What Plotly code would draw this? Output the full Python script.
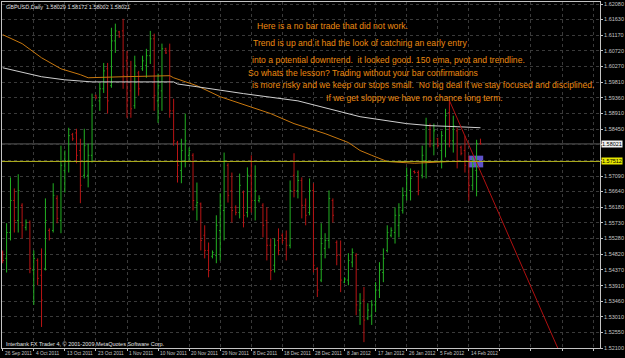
import plotly.graph_objects as go

# ---------------- data ----------------
bar_index = list(range(124))

opens = [
    1.5487, 1.5470, 1.5545, 1.5638, 1.5580, 1.5624, 1.5560, 1.5574, 1.5435, 1.5464,
    1.5421, 1.5440, 1.5551, 1.5551, 1.5644, 1.5580, 1.5725, 1.5754, 1.5829, 1.5834,
    1.5783, 1.5711, 1.5711, 1.5769, 1.5942, 1.5927, 1.5962, 1.6020, 1.5971, 1.6101,
    1.6127, 1.6130, 1.6043, 1.5956, 1.5913, 1.6008, 1.6020, 1.6029, 1.6058, 1.6107,
    1.5927, 1.5956, 1.6078, 1.6072, 1.5898, 1.5805, 1.5725, 1.5754, 1.5769, 1.5769,
    1.5624, 1.5628, 1.5537, 1.5493, 1.5476, 1.5479, 1.5551, 1.5609, 1.5740, 1.5667,
    1.5618, 1.5603, 1.5661, 1.5603, 1.5711, 1.5638, 1.5638, 1.5624, 1.5580, 1.5508,
    1.5450, 1.5522, 1.5537, 1.5528, 1.5508, 1.5711, 1.5667, 1.5696, 1.5624, 1.5603,
    1.5667, 1.5441, 1.5407, 1.5499, 1.5522, 1.5638, 1.5516, 1.5479, 1.5401, 1.5407,
    1.5459, 1.5479, 1.5320, 1.5349, 1.5297, 1.5305, 1.5335, 1.5378, 1.5429, 1.5493,
    1.5537, 1.5545, 1.5566, 1.5609, 1.5653, 1.5667, 1.5722, 1.5719, 1.5711, 1.5754,
    1.5855, 1.5797, 1.5817, 1.5783, 1.5811, 1.5893, 1.5811, 1.5840, 1.5792, 1.5783,
    1.5754, 1.5682, 1.5725, 1.58029]

highs = [
    1.5493, 1.5572, 1.5705, 1.5673, 1.5714, 1.5630, 1.5583, 1.5580, 1.5493, 1.5470,
    1.5499, 1.5644, 1.5557, 1.5688, 1.5653, 1.5797, 1.5783, 1.5849, 1.5834, 1.5846,
    1.5817, 1.5846, 1.5803, 1.5948, 1.5945, 1.5979, 1.6037, 1.6037, 1.6139, 1.6151,
    1.6130, 1.6165, 1.6072, 1.6043, 1.6058, 1.6014, 1.6058, 1.6078, 1.6130, 1.6122,
    1.6006, 1.6093, 1.6081, 1.6093, 1.5933, 1.5811, 1.5817, 1.5890, 1.5792, 1.5775,
    1.5690, 1.5632, 1.5566, 1.5516, 1.5493, 1.5595, 1.5659, 1.5777, 1.5746, 1.5719,
    1.5624, 1.5716, 1.5667, 1.5734, 1.5769, 1.5740, 1.5653, 1.5630, 1.5618, 1.5528,
    1.5528, 1.5557, 1.5543, 1.5551, 1.5696, 1.5775, 1.5725, 1.5705, 1.5644, 1.5702,
    1.5688, 1.5444, 1.5572, 1.5543, 1.5667, 1.5644, 1.5522, 1.5522, 1.5415, 1.5485,
    1.5499, 1.5485, 1.5369, 1.5387, 1.5340, 1.5349, 1.5401, 1.5459, 1.5499, 1.5566,
    1.5560, 1.5618, 1.5630, 1.5676, 1.5734, 1.5731, 1.5725, 1.5725, 1.5797, 1.5878,
    1.5861, 1.5861, 1.5820, 1.5840, 1.5904, 1.5927, 1.5884, 1.5849, 1.5797, 1.5826,
    1.5769, 1.5763, 1.5814, 1.58172]

lows = [
    1.5456, 1.5429, 1.5522, 1.5545, 1.5545, 1.5528, 1.5551, 1.5427, 1.5335, 1.5392,
    1.5271, 1.5435, 1.5522, 1.5545, 1.5572, 1.5543, 1.5661, 1.5719, 1.5811, 1.5746,
    1.5630, 1.5702, 1.5676, 1.5748, 1.5933, 1.5898, 1.5950, 1.5890, 1.5965, 1.6066,
    1.6110, 1.5962, 1.5878, 1.5878, 1.5904, 1.5942, 1.6014, 1.5994, 1.6034, 1.5898,
    1.5863, 1.5898, 1.6063, 1.5878, 1.5797, 1.5690, 1.5688, 1.5734, 1.5754, 1.5609,
    1.5580, 1.5493, 1.5470, 1.5415, 1.5470, 1.5456, 1.5464, 1.5522, 1.5632, 1.5574,
    1.5595, 1.5586, 1.5560, 1.5589, 1.5603, 1.5580, 1.5632, 1.5531, 1.5464, 1.5407,
    1.5429, 1.5479, 1.5513, 1.5464, 1.5499, 1.5647, 1.5644, 1.5586, 1.5566, 1.5595,
    1.5429, 1.5358, 1.5401, 1.5470, 1.5499, 1.5574, 1.5450, 1.5372, 1.5398, 1.5392,
    1.5444, 1.5305, 1.5277, 1.5227, 1.5291, 1.5277, 1.5314, 1.5355, 1.5401, 1.5487,
    1.5531, 1.5513, 1.5531, 1.5600, 1.5638, 1.5638, 1.5716, 1.5653, 1.5702, 1.5702,
    1.5792, 1.5769, 1.5792, 1.5731, 1.5763, 1.5792, 1.5777, 1.5731, 1.5769, 1.5719,
    1.5638, 1.5667, 1.5650, 1.58002]

closes = [
    1.5464, 1.5545, 1.5638, 1.5580, 1.5667, 1.5566, 1.5574, 1.5441, 1.5470, 1.5412,
    1.5349, 1.5580, 1.5528, 1.5653, 1.5586, 1.5740, 1.5754, 1.5826, 1.5817, 1.5769,
    1.5682, 1.5797, 1.5769, 1.5913, 1.5936, 1.5962, 1.6014, 1.5927, 1.6101, 1.6130,
    1.6113, 1.6000, 1.5927, 1.5904, 1.6029, 1.5962, 1.6043, 1.6058, 1.6107, 1.5942,
    1.5971, 1.6078, 1.6066, 1.5898, 1.5811, 1.5740, 1.5783, 1.5811, 1.5783, 1.5638,
    1.5632, 1.5522, 1.5493, 1.5435, 1.5487, 1.5566, 1.5624, 1.5754, 1.5653, 1.5609,
    1.5603, 1.5682, 1.5595, 1.5711, 1.5638, 1.5667, 1.5644, 1.5566, 1.5508, 1.5435,
    1.5508, 1.5493, 1.5522, 1.5508, 1.5667, 1.5667, 1.5696, 1.5624, 1.5595, 1.5667,
    1.5450, 1.5378, 1.5513, 1.5522, 1.5644, 1.5595, 1.5479, 1.5407, 1.5410, 1.5464,
    1.5487, 1.5335, 1.5340, 1.5291, 1.5320, 1.5335, 1.5378, 1.5435, 1.5470, 1.5545,
    1.5551, 1.5595, 1.5595, 1.5653, 1.5711, 1.5702, 1.5719, 1.5667, 1.5769, 1.5855,
    1.5811, 1.5840, 1.5797, 1.5826, 1.5884, 1.5811, 1.5855, 1.5754, 1.5775, 1.5740,
    1.5682, 1.5740, 1.5803, 1.58021]

# moving averages (read at selected bars)
ma_white_x = [0, 10, 16, 23, 44, 45, 50, 62, 76, 92, 104, 110, 117, 123]
ma_white_y = [1.6023, 1.5997, 1.5988, 1.5982, 1.5982, 1.5976, 1.5968, 1.5948,
              1.5927, 1.5881, 1.5861, 1.5855, 1.5852, 1.5849]
ema_x = [0, 5, 10, 15, 20, 22, 31, 43, 44, 50, 56, 62, 69, 75, 83, 89, 92, 95,
         99, 106, 110, 115, 123]
ema_y = [1.6119, 1.6093, 1.6052, 1.6020, 1.6003, 1.5994, 1.5997, 1.6000, 1.5994,
         1.5971, 1.5939, 1.5916, 1.5890, 1.5861, 1.5832, 1.5806, 1.5783, 1.5769,
         1.5751, 1.5746, 1.5748, 1.5751, 1.5751]

# trendline, pivot, bid, box
trend_x = [115, 143]
trend_y = [1.5928, 1.5207]
pivot_price = 1.57512
bid_price = 1.58021
box_x = [119.9, 123.7]
box_y = [1.5734, 1.5768]

# axis labels
date_ticks = [0, 8, 16, 24, 32, 40, 48, 56, 64, 72, 80, 88, 96, 104, 112, 120]
date_labels = ["26 Sep 2011", "4 Oct 2011", "13 Oct 2011", "23 Oct 2011", "1 Nov 2011",
               "10 Nov 2011", "20 Nov 2011", "29 Nov 2011", "8 Dec 2011", "18 Dec 2011",
               "28 Dec 2011", "8 Jan 2012", "17 Jan 2012", "26 Jan 2012", "5 Feb 2012",
               "14 Feb 2012"]
grid_x = date_ticks + [128, 136, 144, 152]
price_labels = ["1.52100", "1.52550", "1.53010", "1.53460", "1.53910", "1.54370",
                "1.54820", "1.55280", "1.55730", "1.56180", "1.56640", "1.57090",
                "1.57540", "1.58000", "1.58450", "1.58910", "1.59360", "1.59810",
                "1.60270", "1.60720", "1.61170", "1.61630", "1.62080"]
hidden_labels = ["1.57540", "1.58000"]

header = "GBPUSD,Daily  1.58029 1.58172 1.58002 1.58021"
copyright_text = "Interbank FX Trader 4, \u00a9 2001-2009 MetaQuotes Software Corp."
notes = [
    "Here is a no bar trade that did not work.",
    "Trend is up and it had the look of catching an early entry",
    "into a potential downtrend.  it looked good. 150 ema, pvot and trendline.",
    "So whats the lesson? Trading without your bar confirmations",
    "is more risky and we keep our stops small.  No big deal if we stay focused and disciplined.",
    "If we get sloppy we have no chance long term.",
]

# ---------------- layout helpers ----------------
W, H = 625, 358
ML, MR, MT, MB = 1, 19, 1, 10
PW, PH = W - ML - MR, H - MT - MB


def px(xp):
    return (xp - ML) / PW


def py(yp):
    return (H - MB - yp) / PH


FONT = "Liberation Sans, Arial, sans-serif"
AXIS_COL = "#c4c4c4"

fig = go.Figure()

fig.add_trace(go.Scatter(x=ema_x, y=ema_y, mode="lines",
                         line=dict(color="#c8780f", width=1), hoverinfo="skip"))
fig.add_trace(go.Scatter(x=ma_white_x, y=ma_white_y, mode="lines",
                         line=dict(color="#cfcfcf", width=1), hoverinfo="skip"))

fig.add_trace(go.Ohlc(
    x=bar_index, open=opens, high=highs, low=lows, close=closes,
    increasing=dict(line=dict(color="#22b022", width=1)),
    decreasing=dict(line=dict(color="#b81414", width=1)),
    tickwidth=0.3, hoverinfo="skip"))

fig.add_trace(go.Scatter(x=trend_x, y=trend_y, mode="lines",
                         line=dict(color="#b01010", width=1), hoverinfo="skip"))

shapes = [
    dict(type="rect", xref="x", yref="y", x0=box_x[0], x1=box_x[1],
         y0=box_y[0], y1=box_y[1], fillcolor="#5e52c8", line=dict(width=0),
         layer="below"),
    dict(type="line", xref="paper", yref="y", x0=0, x1=1, y0=bid_price, y1=bid_price,
         line=dict(color="#5c5c5c", width=1), layer="below"),
    dict(type="line", xref="paper", yref="y", x0=0, x1=1, y0=pivot_price, y1=pivot_price,
         line=dict(color="#b4b41e", width=1)),
]

annotations = []
annotations.append(dict(text=header, xref="paper", yref="paper", x=px(3), y=py(6),
                        xanchor="left", yanchor="middle", showarrow=False,
                        font=dict(family=FONT, size=5.5, color="#e0e0e0")))
annotations.append(dict(text=copyright_text, xref="paper", yref="paper", x=px(3), y=py(344),
                        xanchor="left", yanchor="middle", showarrow=False,
                        font=dict(family=FONT, size=5.5, color="#e0e0e0")))

note_pos = [(257, 25), (253, 42), (252, 59), (248, 72), (252, 84), (327, 97)]
for t, (xp, yp) in zip(notes, note_pos):
    annotations.append(dict(text=t, xref="paper", yref="paper", x=px(xp), y=py(yp),
                            xanchor="left", yanchor="middle", showarrow=False,
                            font=dict(family=FONT, size=8.6, color="#ec8a10")))

for xv, lab in zip(date_ticks, date_labels):
    annotations.append(dict(text=lab, xref="x", yref="paper", x=xv, y=0,
                            xanchor="left", yanchor="top", yshift=-1, showarrow=False,
                            font=dict(family=FONT, size=4.8, color=AXIS_COL)))

annotations.append(dict(text="1.58021", xref="paper", yref="y", x=1, y=bid_price,
                        xanchor="left", yanchor="middle", xshift=1, showarrow=False,
                        bgcolor="#f0f0f0", borderpad=0,
                        font=dict(family=FONT, size=5.5, color="#000000")))
annotations.append(dict(text="1.57512", xref="paper", yref="y", x=1, y=pivot_price,
                        xanchor="left", yanchor="middle", xshift=1, showarrow=False,
                        bgcolor="#e6e600", borderpad=0,
                        font=dict(family=FONT, size=5.5, color="#000000")))

tickvals = [float(s) for s in price_labels]
ticktext = ["" if s in hidden_labels else s for s in price_labels]

fig.update_layout(
    width=W, height=H, autosize=False,
    margin=dict(l=ML, r=MR, t=MT, b=MB, pad=0),
    paper_bgcolor="#000000", plot_bgcolor="#000000",
    showlegend=False, hovermode=False,
    shapes=shapes, annotations=annotations,
    xaxis=dict(range=[-0.18, 153.77], tickvals=grid_x, showticklabels=False,
               ticks="outside", ticklen=2, tickcolor=AXIS_COL,
               showgrid=True, gridcolor="#3a3a3a", griddash="dot", gridwidth=1,
               showline=True, linecolor=AXIS_COL, linewidth=1, mirror=True,
               zeroline=False, rangeslider=dict(visible=False), fixedrange=True),
    yaxis=dict(range=[1.521, 1.62138], side="right", tickvals=tickvals, ticktext=ticktext,
               ticks="outside", ticklen=2, tickcolor=AXIS_COL,
               tickfont=dict(family=FONT, size=5.5, color=AXIS_COL),
               showgrid=True, gridcolor="#3a3a3a", griddash="dot", gridwidth=1,
               showline=True, linecolor=AXIS_COL, linewidth=1, mirror=True,
               zeroline=False, fixedrange=True),
)

fig.write_html("out.html")
